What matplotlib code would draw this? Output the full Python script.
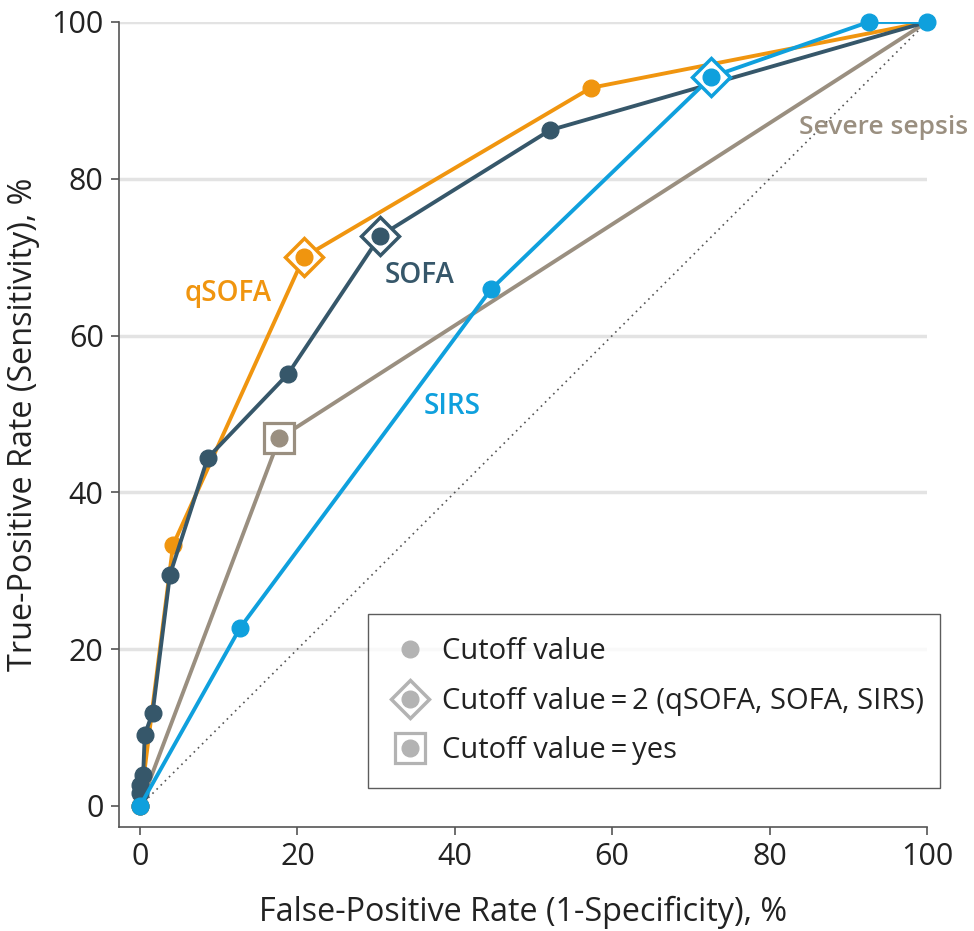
import matplotlib
matplotlib.use("Agg")
import matplotlib.pyplot as plt
from matplotlib.lines import Line2D
from matplotlib.legend_handler import HandlerTuple

plt.rcParams['font.family'] = ['Open Sans', 'DejaVu Sans']

# Data (FPR %, TPR %)
qsofa_fpr = [0, 4.2, 20.8, 57.3, 100]
qsofa_tpr = [0, 33.3, 70.0, 91.6, 100]
qsofa_cut2 = (20.8, 70.0)

sofa_fpr = [0, 0, 0, 0.4, 0.6, 1.6, 3.8, 8.6, 18.8, 30.5, 52.1, 100]
sofa_tpr = [0, 1.7, 2.7, 4.0, 9.1, 11.9, 29.5, 44.4, 55.1, 72.7, 86.2, 100]
sofa_cut2 = (30.5, 72.7)

sirs_fpr = [0, 12.7, 44.6, 72.6, 92.6, 100]
sirs_tpr = [0, 22.7, 65.9, 93.0, 100, 100]
sirs_cut2 = (72.6, 93.0)

sepsis_fpr = [0, 17.7, 100]
sepsis_tpr = [0, 46.9, 100]
sepsis_yes = (17.7, 46.9)

ticks = [0, 20, 40, 60, 80, 100]

C_Q = '#F0950F'
C_S = '#36576A'
C_R = '#0FA0DD'
C_V = '#9A8F80'
C_L = '#B3B3B3'

fig = plt.figure(figsize=(9.74, 9.31), dpi=100)
ax = fig.add_axes([0.1222, 0.1117, 0.8295, 0.8647])

ax.plot([0, 100], [0, 100], ls=(0, (1, 2.5)), color='#555555', lw=1.2, zorder=1)

lw = 2.8
ms = 12

ax.plot(sepsis_fpr, sepsis_tpr, color=C_V, lw=lw, zorder=2)
ax.plot(*sepsis_yes, marker='s', ms=22, mfc='white', mec=C_V, mew=2.3, zorder=3, clip_on=False)
ax.plot(*sepsis_yes, marker='o', ms=ms, color=C_V, zorder=4, clip_on=False)

def series(fpr, tpr, cut, c, z):
    ax.plot(fpr, tpr, color=c, lw=lw, zorder=z)
    ax.plot(*cut, marker='D', ms=19, mfc='white', mec=c, mew=2.5, zorder=z + 1, clip_on=False)
    pts = [(x, y) for x, y in zip(fpr, tpr) if (x, y) != (100, 100) or c == C_R]
    ax.plot([p[0] for p in pts], [p[1] for p in pts], ls='none', marker='o', ms=ms,
            color=c, zorder=z + 2, clip_on=False)

series(qsofa_fpr, qsofa_tpr, qsofa_cut2, C_Q, 5)
series(sofa_fpr, sofa_tpr, sofa_cut2, C_S, 8)
series(sirs_fpr, sirs_tpr, sirs_cut2, C_R, 11)

ax.text(11.2, 65.4, 'qSOFA', color=C_Q, fontsize=20, fontweight='semibold', ha='center', va='center')
ax.text(35.5, 67.6, 'SOFA', color=C_S, fontsize=20, fontweight='semibold', ha='center', va='center')
ax.text(39.6, 50.9, 'SIRS', color=C_R, fontsize=20, fontweight='semibold', ha='center', va='center')
ax.text(105.2, 86.5, 'Severe sepsis', color=C_V, fontsize=19, fontweight='semibold', ha='right', va='center',
        clip_on=False)

ax.set_xlim(-2.67, 100)
ax.set_ylim(-2.68, 100)
ax.set_xticks(ticks)
ax.set_yticks(ticks)
ax.tick_params(axis='both', direction='out', length=6, width=1.2, color='#555555',
               labelsize=22, labelcolor='#222222', pad=5)
for s in ['top', 'right']:
    ax.spines[s].set_visible(False)
for s in ['left', 'bottom']:
    ax.spines[s].set_color('#555555')
    ax.spines[s].set_linewidth(1.2)
ax.spines['left'].set_bounds(-2.68, 100)
ax.spines['bottom'].set_bounds(-2.67, 100)

for y in ticks[1:]:
    ax.axhline(y, color='#E3E3E3', lw=2.5, zorder=0)

ax.set_xlabel('False-Positive Rate (1-Specificity), %', fontsize=23.3, color='#222222', labelpad=17)
ax.set_ylabel('True-Positive Rate (Sensitivity), %', fontsize=23.3, color='#222222', labelpad=8)

h1 = Line2D([], [], ls='none', marker='o', ms=ms, color=C_L)
h2a = Line2D([], [], ls='none', marker='D', ms=19, mfc='white', mec=C_L, mew=2.5)
h2 = (h2a, Line2D([], [], ls='none', marker='o', ms=ms, color=C_L))
h3a = Line2D([], [], ls='none', marker='s', ms=22, mfc='white', mec=C_L, mew=2.3)
h3 = (h3a, Line2D([], [], ls='none', marker='o', ms=ms, color=C_L))
leg = ax.legend([h1, h2, h3],
                ['Cutoff value', 'Cutoff value\u2009=\u20092 (qSOFA, SOFA, SIRS)', 'Cutoff value\u2009=\u2009yes'],
                handler_map={tuple: HandlerTuple(ndivide=1)},
                loc='upper left', bbox_to_anchor=(0.308, 0.2646, 0.708, 0.0), mode='expand',
                fontsize=21, frameon=True, fancybox=False, edgecolor='#333333',
                handlelength=1.3, handletextpad=0.45, labelspacing=0.7, borderpad=0.8,
                borderaxespad=0)
leg.get_frame().set_linewidth(1.0)
for t in leg.get_texts():
    t.set_color('#222222')

fig.savefig('out.png', dpi=100)
